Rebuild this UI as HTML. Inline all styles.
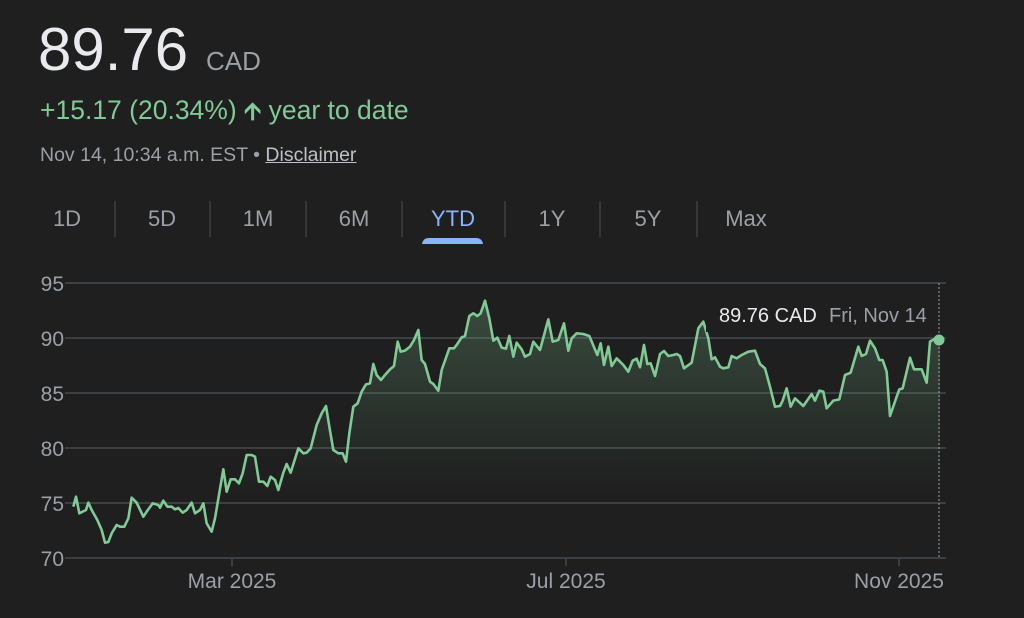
<!DOCTYPE html>
<html><head><meta charset="utf-8"><style>
html,body{margin:0;padding:0;background:#1f1f1f;width:1024px;height:618px;overflow:hidden;font-family:"Liberation Sans",Arial,sans-serif}
.a{position:absolute;white-space:nowrap}
</style></head><body>
<div class="a" style="left:38px;top:16px;font-size:60px;color:#e8eaed;line-height:68px">89.76</div>
<div class="a" style="left:206px;top:46px;font-size:26px;color:#9aa0a6;line-height:30px">CAD</div>
<div class="a" style="left:40px;top:95px;font-size:26.5px;color:#81c995;line-height:30px">+15.17 (20.34%) <b style="font-size:24px">&#129129;</b> year to date</div>
<div class="a" style="left:40px;top:143px;font-size:19.5px;color:#9aa0a6;line-height:24px">Nov 14, 10:34 a.m. EST • <span style="text-decoration:underline;color:#bdc1c6">Disclaimer</span></div>
<svg class="a" style="left:0;top:0" width="1024" height="618">
<g font-size="22" fill="#9aa0a6" text-anchor="middle" font-family="Liberation Sans,Arial,sans-serif">
<text x="67" y="226">1D</text><text x="162" y="226">5D</text><text x="258" y="226">1M</text><text x="354" y="226">6M</text>
<text x="453" y="226" fill="#8ab4f8">YTD</text><text x="552" y="226">1Y</text><text x="648" y="226">5Y</text><text x="746" y="226">Max</text>
</g>
<g stroke="#3c4043" stroke-width="1.5">
<line x1="115" y1="201" x2="115" y2="237"/><line x1="210" y1="201" x2="210" y2="237"/><line x1="306" y1="201" x2="306" y2="237"/><line x1="402" y1="201" x2="402" y2="237"/><line x1="505" y1="201" x2="505" y2="237"/><line x1="600" y1="201" x2="600" y2="237"/><line x1="697" y1="201" x2="697" y2="237"/>
</g>
<path d="M422 244 Q423 238 429 238 L476 238 Q482 238 483 244 Z" fill="#8ab4f8"/>
<defs><linearGradient id="g" x1="0" y1="0" x2="0" y2="1"><stop offset="0" stop-color="#81c995" stop-opacity="0.26"/><stop offset="0.6" stop-color="#81c995" stop-opacity="0.05"/><stop offset="0.75" stop-color="#81c995" stop-opacity="0"/></linearGradient></defs>
<g stroke="#3c4043" stroke-width="2">
<line x1="65" y1="283" x2="946" y2="283"/><line x1="65" y1="338" x2="946" y2="338"/><line x1="65" y1="393" x2="946" y2="393"/><line x1="65" y1="448" x2="946" y2="448"/><line x1="65" y1="503" x2="946" y2="503"/><line x1="65" y1="558" x2="946" y2="558"/>
<line x1="232" y1="558" x2="232" y2="566"/><line x1="566" y1="558" x2="566" y2="566"/><line x1="899" y1="558" x2="899" y2="566"/>
</g>
<g font-size="21" fill="#9aa0a6" text-anchor="end"><text x="64" y="291">95</text><text x="64" y="346">90</text><text x="64" y="401">85</text><text x="64" y="456">80</text><text x="64" y="511">75</text><text x="64" y="566">70</text></g>
<g font-size="21" fill="#9aa0a6" text-anchor="middle"><text x="232" y="588">Mar 2025</text><text x="566" y="588">Jul 2025</text><text x="899" y="588">Nov 2025</text></g>
<line x1="939" y1="283" x2="939" y2="558" stroke="#9aa0a6" stroke-width="1" stroke-dasharray="2,2"/>
<g transform="translate(60,280) scale(0.33333)">
<path fill="url(#g)" stroke="none" d="M40 680 L48 650 58 700 78 690 85 668 95 690 112 720 125 750 135 788 145 786 155 760 170 735 180 740 193 740 205 715 215 653 230 668 250 710 260 695 278 670 295 675 300 683 310 662 322 680 335 680 345 688 355 684 368 698 380 690 395 668 405 700 420 690 430 670 440 730 455 755 465 715 490 568 500 635 512 598 525 598 537 610 548 580 560 525 575 525 585 530 597 605 610 605 622 618 632 590 645 600 655 630 670 578 680 552 692 578 715 505 730 520 740 518 752 505 770 435 785 400 798 378 808 440 820 510 835 520 848 520 858 545 868 460 880 380 893 370 905 335 918 313 930 310 940 252 950 285 963 300 975 285 990 268 1002 258 1013 185 1022 215 1035 212 1050 200 1062 180 1075 150 1085 240 1095 252 1110 305 1120 312 1135 332 1145 270 1168 205 1182 205 1190 195 1205 172 1215 168 1228 108 1240 100 1252 108 1262 100 1275 62 1288 115 1300 182 1312 173 1325 203 1338 206 1348 168 1360 230 1370 188 1385 208 1395 230 1410 222 1420 185 1440 210 1465 118 1478 185 1495 180 1512 130 1525 212 1535 175 1550 160 1570 162 1588 168 1612 225 1622 190 1632 255 1645 200 1655 258 1670 235 1690 255 1705 275 1718 242 1730 236 1740 262 1752 195 1762 252 1772 250 1785 288 1800 222 1812 213 1825 228 1840 225 1850 222 1860 228 1872 265 1895 248 1915 145 1930 125 1945 175 1955 238 1965 232 1980 260 1990 265 2005 262 2015 228 2030 235 2045 225 2065 215 2085 212 2100 252 2115 265 2130 320 2145 380 2160 378 2168 362 2180 325 2192 380 2205 355 2230 378 2255 342 2265 362 2278 332 2290 335 2300 385 2320 362 2338 358 2355 285 2372 278 2395 200 2405 228 2418 222 2430 182 2445 205 2458 240 2468 240 2480 275 2490 408 2510 350 2518 328 2528 325 2550 233 2562 268 2585 268 2600 308 2610 185 2625 176 2640 182 L2640 834 L40 834 Z"/>
<polyline fill="none" stroke="#81c995" stroke-width="2.6" vector-effect="non-scaling-stroke" stroke-linejoin="round" points="40,680 48,650 58,700 78,690 85,668 95,690 112,720 125,750 135,788 145,786 155,760 170,735 180,740 193,740 205,715 215,653 230,668 250,710 260,695 278,670 295,675 300,683 310,662 322,680 335,680 345,688 355,684 368,698 380,690 395,668 405,700 420,690 430,670 440,730 455,755 465,715 490,568 500,635 512,598 525,598 537,610 548,580 560,525 575,525 585,530 597,605 610,605 622,618 632,590 645,600 655,630 670,578 680,552 692,578 715,505 730,520 740,518 752,505 770,435 785,400 798,378 808,440 820,510 835,520 848,520 858,545 868,460 880,380 893,370 905,335 918,313 930,310 940,252 950,285 963,300 975,285 990,268 1002,258 1013,185 1022,215 1035,212 1050,200 1062,180 1075,150 1085,240 1095,252 1110,305 1120,312 1135,332 1145,270 1168,205 1182,205 1190,195 1205,172 1215,168 1228,108 1240,100 1252,108 1262,100 1275,62 1288,115 1300,182 1312,173 1325,203 1338,206 1348,168 1360,230 1370,188 1385,208 1395,230 1410,222 1420,185 1440,210 1465,118 1478,185 1495,180 1512,130 1525,212 1535,175 1550,160 1570,162 1588,168 1612,225 1622,190 1632,255 1645,200 1655,258 1670,235 1690,255 1705,275 1718,242 1730,236 1740,262 1752,195 1762,252 1772,250 1785,288 1800,222 1812,213 1825,228 1840,225 1850,222 1860,228 1872,265 1895,248 1915,145 1930,125 1945,175 1955,238 1965,232 1980,260 1990,265 2005,262 2015,228 2030,235 2045,225 2065,215 2085,212 2100,252 2115,265 2130,320 2145,380 2160,378 2168,362 2180,325 2192,380 2205,355 2230,378 2255,342 2265,362 2278,332 2290,335 2300,385 2320,362 2338,358 2355,285 2372,278 2395,200 2405,228 2418,222 2430,182 2445,205 2458,240 2468,240 2480,275 2490,408 2510,350 2518,328 2528,325 2550,233 2562,268 2585,268 2600,308 2610,185 2625,176 2640,182"/>
</g>
<rect x="706" y="298" width="230" height="34" fill="#1f1f1f"/>
<text x="719" y="322" font-size="20" fill="#e8eaed">89.76 CAD</text>
<text x="829" y="322" font-size="20" fill="#9aa0a6">Fri, Nov 14</text>
<circle cx="939" cy="340" r="5.5" fill="#81c995"/>
</svg>
</body></html>
